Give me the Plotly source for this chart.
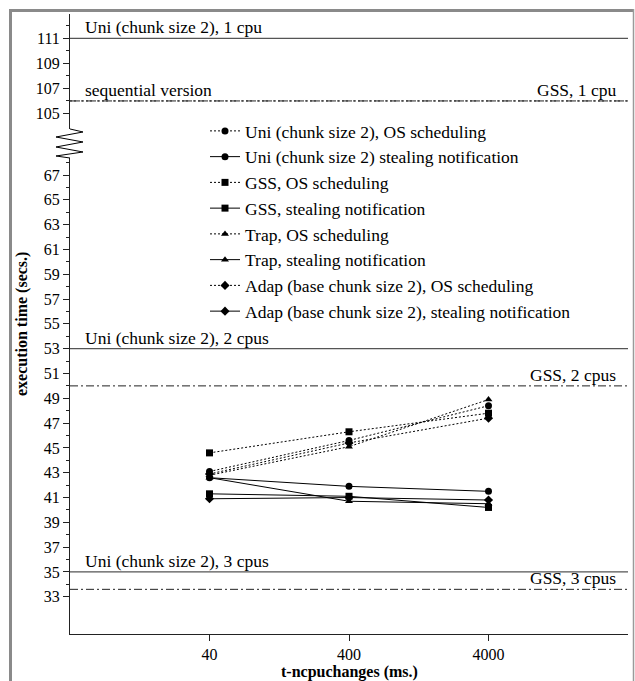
import math
import plotly.graph_objects as go

# ---------------- data ----------------
x_vals = [40, 400, 4000]
x_ticklabels = ["40", "400", "4000"]

uni_os = [43.1, 45.6, 48.4]
uni_steal = [42.6, 41.9, 41.5]
gss_os = [44.6, 46.3, 47.8]
gss_steal = [41.3, 41.1, 40.2]
trap_os = [42.8, 45.1, 48.9]
trap_steal = [42.6, 40.7, 40.5]
adap_os = [42.9, 45.4, 47.4]
adap_steal = [40.9, 41.0, 40.8]

series_names = [
    "Uni (chunk size 2), OS scheduling",
    "Uni (chunk size 2) stealing notification",
    "GSS, OS scheduling",
    "GSS, stealing notification",
    "Trap, OS scheduling",
    "Trap, stealing notification",
    "Adap (base chunk size 2), OS scheduling",
    "Adap (base chunk size 2), stealing notification",
]
series_values = [uni_os, uni_steal, gss_os, gss_steal, trap_os, trap_steal, adap_os, adap_steal]
series_symbols = ["circle", "circle", "square", "square",
                  "triangle-up", "triangle-up", "diamond", "diamond"]
series_dash = ["2px,2px", "solid"] * 4

ref_labels = ["Uni (chunk size 2), 1 cpu", "sequential version", "GSS, 1 cpu",
              "Uni (chunk size 2), 2 cpus", "GSS, 2 cpus",
              "Uni (chunk size 2), 3 cpus", "GSS, 3 cpus"]
ref_values = [111, 106, 106, 53, 50, 35, 33.6]
ref_axis = ["y2", "y2", "y2", "y", "y", "y", "y"]
ref_dash = ["solid", "2px,2px", "8px,3px,2px,3px", "solid", "8px,3px,2px,3px",
            "solid", "8px,3px,2px,3px"]
ref_side = ["left", "left", "right", "left", "right", "left", "right"]

lower_ticks = list(range(33, 68, 2))
lower_minor = list(range(34, 69, 2))
upper_ticks = list(range(105, 112, 2))
upper_minor = list(range(106, 113, 2))

# ---------------- layout geometry ----------------
W, H = 635, 681
L, R, T, B = 70, 7, 14, 47
PW, PH = W - L - R, H - T - B


def px(xp):
    return (xp - L) / PW


def py(yp):
    return (H - B - yp) / PH


FONT = "Liberation Serif"

fig = go.Figure()
for name, vals, sym, dash in zip(series_names, series_values, series_symbols, series_dash):
    fig.add_trace(go.Scatter(
        x=x_vals, y=vals, name=name, mode="lines+markers",
        line=dict(color="black", width=1, dash=dash),
        marker=dict(symbol=sym, size=7, color="black"),
        xaxis="x", yaxis="y",
    ))

shapes = []
annotations = []
for lab, val, ax, dash, side in zip(ref_labels, ref_values, ref_axis, ref_dash, ref_side):
    solid = dash == "solid"
    shapes.append(dict(type="line", xref="paper", x0=0, x1=1, yref=ax, y0=val, y1=val,
                       line=dict(color="#555555" if solid else "#222222",
                                 width=1.3 if solid else 1, dash=dash)))
    annotations.append(dict(
        text=lab, xref="paper", yref=ax, y=val, yanchor="bottom",
        x=px(83) if side == "left" else px(618),
        xanchor="left" if side == "left" else "right",
        showarrow=False, yshift=-1,
        font=dict(family=FONT, size=17.5, color="black")))

# axis break zigzag
zz = [(70, 129), (83, 132), (56, 137), (83, 142), (56, 147), (83, 152), (56, 156), (70, 158)]
path = "M " + " L ".join(f"{px(a):.5f},{py(b):.5f}" for a, b in zz)
shapes.append(dict(type="path", xref="paper", yref="paper", path=path,
                   line=dict(color="black", width=1)))

# outer frame
shapes.append(dict(type="line", xref="paper", yref="paper", x0=px(10.5), x1=px(10.5),
                   y0=py(9), y1=py(700), line=dict(color="#8a8a8a", width=3)))
shapes.append(dict(type="line", xref="paper", yref="paper", x0=px(9), x1=px(634),
                   y0=py(10.5), y1=py(10.5), line=dict(color="#8a8a8a", width=3)))
shapes.append(dict(type="line", xref="paper", yref="paper", x0=px(633.5), x1=px(633.5),
                   y0=py(9), y1=py(700), line=dict(color="#9a9a9a", width=1.5)))

annotations.append(dict(text="<b>execution time (secs.)</b>", xref="paper", yref="paper",
                        x=px(22), y=py(324), xanchor="center", yanchor="middle",
                        textangle=-90, showarrow=False,
                        font=dict(family=FONT, size=16, color="black")))
annotations.append(dict(text="<b>t-ncpuchanges (ms.)</b>", xref="paper", yref="paper",
                        x=px(349), y=py(672), xanchor="center", yanchor="middle",
                        showarrow=False,
                        font=dict(family=FONT, size=16, color="black")))

axis_common = dict(showline=True, linecolor="#222222", linewidth=1, ticks="outside",
                   tickcolor="#222222", showgrid=False, zeroline=False,
                   tickfont=dict(family=FONT, size=16, color="black"))

fig.update_layout(
    width=W, height=H,
    margin=dict(l=L, r=R, t=T, b=B),
    paper_bgcolor="white", plot_bgcolor="white",
    showlegend=True,
    legend=dict(x=px(205), y=py(113), xanchor="left", yanchor="top",
                bgcolor="rgba(0,0,0,0)", borderwidth=0,
                font=dict(family=FONT, size=17.5, color="black"),
                itemwidth=30, tracegroupgap=0),
    xaxis=dict(type="log", range=[math.log10(4), math.log10(40000)],
               tickmode="array", tickvals=x_vals, ticktext=x_ticklabels,
               ticklen=6, anchor="y", **axis_common),
    yaxis=dict(domain=[0, py(158)], range=[30, 68.37], tickmode="array",
               tickvals=lower_ticks, ticklen=6, anchor="x",
               minor=dict(tickmode="array", tickvals=lower_minor, ticklen=3,
                          ticks="outside", tickcolor="#222222"),
               **axis_common),
    yaxis2=dict(domain=[py(129), 1], range=[103.76, 112.94], tickmode="array",
                tickvals=upper_ticks, ticklen=6, anchor="x",
                minor=dict(tickmode="array", tickvals=upper_minor, ticklen=3,
                           ticks="outside", tickcolor="#222222"),
                **axis_common),
    shapes=shapes,
    annotations=annotations,
)

fig.write_html("out.html", config={"displayModeBar": False},
               post_script="document.body.style.margin='0';document.body.style.overflow='hidden';")
